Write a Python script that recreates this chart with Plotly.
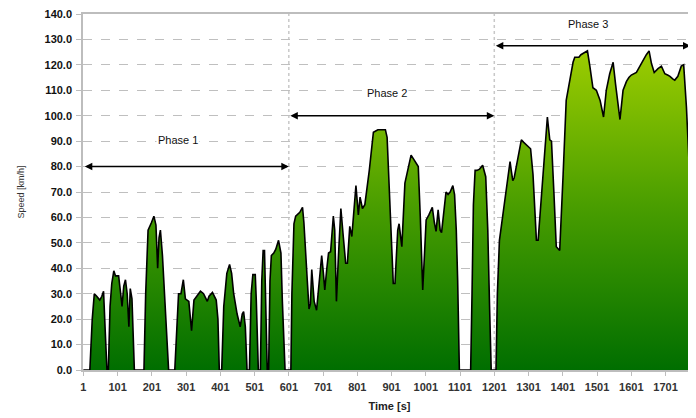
import plotly.graph_objects as go

# ---- data ----
time_s = [
    1, 20, 27, 33, 40, 49, 55, 60, 65, 70,
    74, 79, 84, 90, 95, 104, 110, 114, 119, 124, 129, 134, 138, 143, 150,
    178, 183, 190, 200, 207, 213, 218, 222, 226, 232, 240, 250,
    268, 274, 279, 286, 293, 299, 309, 317, 324, 343, 352, 363, 368, 378, 389, 394, 398,
    405, 411, 420, 428, 434, 440, 450, 459, 465, 469, 474, 479,
    486, 491, 496, 503, 506, 512,
    518, 522, 526, 530, 538,
    542, 546, 550, 557, 563, 571, 578, 582, 590,
    607, 610, 616, 621, 633, 641, 645, 650, 655, 660, 664, 668, 672, 675, 682, 690, 697,
    702, 706, 712, 717, 723, 731, 735, 740, 746, 753, 760, 767, 772, 779, 785, 797,
    804, 809, 816, 823, 836, 848, 861, 872, 883, 888, 899, 906, 911, 919, 923, 927, 931,
    940, 950, 958, 965, 970, 979, 985, 992, 997, 1002, 1010, 1016, 1020, 1026, 1031,
    1037, 1043, 1047, 1055, 1060, 1066, 1072, 1080, 1085, 1090, 1094, 1099,
    1132, 1136, 1140, 1145, 1150, 1158, 1167, 1176, 1182, 1187, 1192,
    1206, 1210, 1216, 1219, 1226, 1233, 1237, 1242, 1247, 1251, 1255, 1259, 1265, 1270,
    1280, 1287, 1294, 1300, 1307, 1314, 1320, 1324, 1329, 1334, 1338, 1343, 1348, 1356,
    1363, 1368, 1375, 1382, 1392, 1397, 1402, 1411, 1418, 1425, 1431, 1436, 1448, 1454,
    1460, 1473, 1480, 1489, 1499, 1510, 1520, 1528, 1538, 1548, 1555, 1562, 1568, 1577,
    1587, 1594, 1601, 1616, 1624, 1631, 1645, 1653, 1660, 1668, 1674, 1679, 1689, 1699,
    1707, 1714, 1722, 1728, 1737, 1747, 1754, 1762, 1768, 1777, 1787,
]
speed_kmh = [
    0, 0, 20, 30, 29, 27.5, 29, 31, 15, 0,
    0, 25, 34, 39, 37, 37, 30, 25, 33, 35.5, 30, 17, 32, 28, 0,
    0, 30, 55, 58, 60.5, 57, 40, 52, 55, 45, 25, 0,
    0, 20, 30, 30, 35.5, 28, 27, 15.5, 27.5, 31, 30, 27, 29, 30.5, 27.5, 20, 0,
    0, 25, 38, 41.5, 38, 30, 22, 17, 22, 23, 17, 0,
    0, 30, 37.5, 37.5, 27.5, 0,
    0, 35, 47, 47, 0,
    0, 35, 45, 46, 47.5, 51, 46, 27.5, 0,
    0, 30, 57.5, 60.5, 62, 64, 58, 48.5, 35, 24, 26, 39.5, 30, 27, 23.5, 35, 45,
    38, 31.5, 40, 46, 46.5, 60.5, 55, 27, 45, 63.5, 52.5, 42, 42, 56.5, 52.5, 72.5,
    61, 68, 63.5, 65, 78.5, 93.5, 94.5, 94.5, 94.5, 91.5, 56.5, 34, 34, 55, 57.5, 52, 48.5,
    73.5, 80, 84.5, 83, 82, 80, 60, 31.5, 45, 59, 61, 63, 64, 58, 54.5,
    63, 55, 54, 65, 70, 69, 70, 72.5, 69, 55, 35.5, 0,
    0, 30, 65, 78.5, 78.5, 79, 80.5, 76, 55, 26, 0,
    0, 30, 51, 54, 62, 69.5, 73.5, 77, 82, 78, 74.5, 75.5, 80, 84.5,
    90.5, 89.5, 88.5, 88, 87, 77, 60, 51, 51, 60, 71, 79, 86.5, 99.5,
    90.5, 90, 70, 48.5, 47, 60, 77, 106, 111.5, 117, 121, 123, 123, 124,
    124.5, 125.5, 119.5, 111, 110, 106, 99.5, 110, 116.5, 121, 112.5, 104, 98.5, 110,
    113.5, 115, 116, 117, 119, 121, 124, 125.5, 120.5, 117, 118, 118.5, 119.5, 116.5,
    116, 115.5, 114.5, 114, 115.5, 119.5, 120, 103.5, 86.5, 59, 0,
]

x_tick_vals = [1, 101, 201, 301, 401, 501, 601, 701, 801, 901, 1001, 1101, 1201, 1301, 1401, 1501, 1601, 1701]
x_tick_text = [str(v) for v in x_tick_vals]
y_tick_vals = [0, 10, 20, 30, 40, 50, 60, 70, 80, 90, 100, 110, 120, 130, 140]
y_tick_text = ["%.1f" % v for v in y_tick_vals]

phase_names = ["Phase 1", "Phase 2", "Phase 3"]
phase_start = [1, 601, 1201]
phase_end = [601, 1201, 1774]
phase_arrow_y = [80, 100, 127.5]
phase_label_x = [278, 889, 1474]
phase_label_y = [90.5, 109, 136]
phase_bounds = [601, 1201]

FONT = "Liberation Sans, Arial, sans-serif"

fig = go.Figure()
fig.add_trace(go.Scatter(
    x=time_s, y=speed_kmh, mode="lines",
    line=dict(color="black", width=1.6),
    fill="tozeroy",
    fillgradient=dict(type="vertical",
                      colorscale=[[0, "#006e00"], [0.5, "#4a9e00"], [1, "#a2d000"]],
                      start=0, stop=130),
    hoverinfo="skip", showlegend=False,
))

shapes = []
for b in phase_bounds:
    shapes.append(dict(type="line", xref="x", yref="y", x0=b, x1=b, y0=0, y1=140,
                       line=dict(color="#c8c8c8", width=1.5, dash="dot"), layer="below"))

annotations = []
for name, s, e, ya, lx, ly in zip(phase_names, phase_start, phase_end, phase_arrow_y,
                                   phase_label_x, phase_label_y):
    annotations.append(dict(x=e, y=ya, ax=s, ay=ya, xref="x", yref="y", axref="x", ayref="y",
                            text="", showarrow=True, arrowhead=2, arrowside="end+start",
                            arrowsize=1, arrowwidth=1.5, arrowcolor="black"))
    annotations.append(dict(x=lx, y=ly, xref="x", yref="y", text=name, showarrow=False,
                            bgcolor="white", font=dict(family=FONT, size=11, color="#111")))

# the page body has an 8px offset, so the figure is 8px smaller on each side
fig.update_layout(
    width=688, height=410,
    margin=dict(l=75, r=0, t=6, b=48),
    plot_bgcolor="white", paper_bgcolor="white",
    shapes=shapes, annotations=annotations,
    xaxis=dict(range=[0, 1790], tickmode="array", tickvals=x_tick_vals, ticktext=x_tick_text,
               automargin=False,
               showgrid=False, zeroline=False, showline=True, linecolor="#bdbdbd", linewidth=1.5,
               mirror=True, ticks="outside", ticklen=4, tickcolor="#bdbdbd",
               ticklabelstandoff=2,
               tickfont=dict(family=FONT, size=11, color="#333", weight="bold"),
               title=dict(text="Time [s]", font=dict(family=FONT, size=11, color="#222", weight="bold"),
                          standoff=10)),
    yaxis=dict(range=[0, 140], tickmode="array", tickvals=y_tick_vals, ticktext=y_tick_text,
               automargin=False, ticklabeloverflow="allow",
               showgrid=True, gridcolor="#bfbfbf", griddash="dash", gridwidth=1.2,
               zeroline=False, showline=True, linecolor="#bdbdbd", linewidth=1.5,
               ticks="outside", ticklen=5, tickcolor="#bdbdbd",
               ticklabelstandoff=2,
               tickfont=dict(family=FONT, size=11, color="#111", weight="bold"),
               title=dict(text="Speed [km/h]", font=dict(family=FONT, size=9, color="#333"),
                          standoff=18)),
)

fig.write_html("out.html")
